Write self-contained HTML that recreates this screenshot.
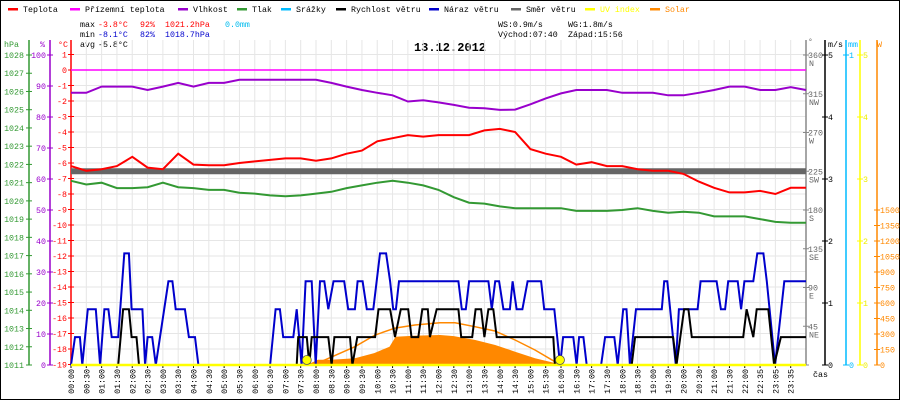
<!DOCTYPE html>
<html><head><meta charset="utf-8">
<style>
html,body{margin:0;padding:0;background:#fff;}
svg{display:block;font-family:"Liberation Mono",monospace;}
</style></head>
<body>
<svg id="chart" width="900" height="400" viewBox="0 0 900 400" xmlns="http://www.w3.org/2000/svg">
<rect x="0.5" y="0.5" width="899" height="399" fill="#fff" stroke="#000"/>
<g id="legend" font-size="8.3"></g>
<g font-size="8.3">
<text x="80" y="27" fill="#000">max</text><text x="98" y="27" fill="#f00">-3.8°C</text><text x="140" y="27" fill="#f00">92%</text><text x="165" y="27" fill="#f00">1021.2hPa</text><text x="225" y="27" fill="#00bbee">0.0mm</text>
<text x="80" y="37" fill="#000">min</text><text x="98" y="37" fill="#0000cc">-8.1°C</text><text x="140" y="37" fill="#0000cc">82%</text><text x="165" y="37" fill="#0000cc">1018.7hPa</text>
<text x="80" y="47" fill="#000">avg</text><text x="98" y="47" fill="#000">-5.8°C</text>
<text x="498" y="27" fill="#000">WS:0.9m/s</text><text x="568" y="27" fill="#000">WG:1.8m/s</text>
<text x="498" y="37" fill="#000">Východ:07:40</text><text x="568" y="37" fill="#000">Západ:15:56</text>
</g>
<text x="450" y="51" text-anchor="middle" font-size="12" font-weight="bold" fill="#000">13.12.2012</text>
<g id="grid"></g>
<g id="axes"></g>
<g id="series"></g>
</svg>
<script>
const NS="http://www.w3.org/2000/svg";
const hours=[];for(let i=0;i<=48;i++)hours.push(i*0.5);
const temperature=[-6.2,-6.5,-6.4,-6.2,-5.6,-6.3,-6.4,-5.4,-6.1,-6.15,-6.15,-6.0,-5.9,-5.8,-5.7,-5.7,-5.85,-5.7,-5.4,-5.2,-4.6,-4.4,-4.2,-4.3,-4.2,-4.2,-4.2,-3.9,-3.8,-4.0,-5.1,-5.4,-5.6,-6.1,-5.95,-6.2,-6.2,-6.4,-6.5,-6.5,-6.7,-7.2,-7.6,-7.9,-7.9,-7.8,-8.0,-7.6,-7.6];
const humidity=[87.8,87.8,89.8,89.8,89.8,88.7,89.8,91,89.8,91,91,92,92,92,92,92,92,91,89.8,88.7,87.8,87,85,85.4,84.7,83.9,83,82.8,82.3,82.4,84.1,86,87.6,88.7,88.7,88.7,87.8,87.8,87.8,87,87,87.8,88.7,89.8,89.8,88.7,88.7,89.6,88.7];
const pressure=[1021.1,1020.9,1021.0,1020.7,1020.7,1020.75,1021.0,1020.75,1020.7,1020.6,1020.6,1020.45,1020.4,1020.3,1020.25,1020.3,1020.4,1020.5,1020.7,1020.85,1021.0,1021.1,1021.0,1020.85,1020.6,1020.2,1019.9,1019.85,1019.7,1019.6,1019.6,1019.6,1019.6,1019.45,1019.45,1019.45,1019.5,1019.6,1019.45,1019.35,1019.4,1019.35,1019.15,1019.15,1019.15,1019.0,1018.85,1018.8,1018.8];
const apparentTemp=[0,0];const apparentHours=[0,24];
const windDir=[225,225];const windDirHours=[0,24];
const gustHours=[0,0.13,0.29,0.37,0.55,0.81,0.95,1.09,1.22,1.33,1.54,1.74,1.89,1.98,2.33,2.42,2.50,2.65,2.77,3.18,3.31,3.42,3.72,3.85,4.05,4.16,6.50,6.68,6.82,6.93,7.26,7.37,7.53,7.66,7.86,7.99,8.13,8.27,8.40,8.57,8.92,9.05,9.27,9.36,9.52,9.66,9.87,10.09,10.29,10.42,10.52,10.61,10.71,12.65,12.76,12.89,13.00,13.63,13.74,13.85,13.98,14.12,14.33,14.42,14.55,14.74,14.91,15.35,15.45,15.78,15.97,16.07,16.40,16.51,16.59,16.73,16.84,17.31,17.44,17.74,17.85,18.03,18.14,18.25,18.45,19.29,19.37,19.47,19.75,19.85,20.46,20.56,21.08,21.22,21.36,21.46,21.77,21.88,21.99,22.28,22.41,22.61,22.72,22.99,23.29,24];
const gustLevel=[0,1,1,0,2,2,0,2,2,1,1,4,4,2,2,0,1,1,0,3,3,2,2,1,1,0,0,2,2,1,1,2,0,3,3,0,3,3,2,3,3,2,2,3,3,2,2,4,4,3,2,2,3,3,2,2,3,3,2,3,3,2,2,3,2,2,3,3,2,2,0,1,1,0,1,1,0,0,1,1,0,2,2,0,2,2,3,3,0,2,2,3,3,2,2,3,3,2,3,3,4,4,3,0,3,3];
const speedHours=[0,1.54,1.70,1.89,1.98,2.14,2.22,7.37,7.42,7.70,7.78,7.86,8.40,8.51,8.60,9.11,9.19,9.35,9.93,10.04,10.42,10.58,10.77,11.01,11.12,11.34,11.47,11.65,11.72,11.94,12.65,12.74,13.10,13.21,13.39,13.50,13.63,13.79,13.90,15.75,15.80,18.31,18.42,19.66,19.77,20.02,20.16,20.27,21.95,22.06,22.28,22.39,22.77,22.96,23.18,24];
const speedLevel=[0,0,2,2,1,1,0,0,1,1,0,1,1,0,1,1,0,1,1,2,2,1,2,2,1,1,2,2,1,2,2,1,1,2,2,1,2,2,1,1,0,0,1,1,0,2,2,1,1,2,1,2,2,0,1,1];
const solarHours=[7.7,8.06,8.5,9.27,9.9,10.4,10.6,11.2,12.05,12.5,13.2,13.85,14.5,15.15,15.8,15.95];
const solarW=[0,50,50,65,115,177,274,284,290,280,242,194,129,65,19,0];
const solarMaxHours=[7.9,8.07,9.27,9.93,10.58,11.23,12.05,12.54,13.19,13.84,14.5,15.15,15.8,15.97];
const solarMaxW=[0,20,177,290,357,387,409,408,371,329,242,145,32,0];
const tickLabels=["00:00","00:30","01:00","01:30","02:00","02:30","03:00","03:30","04:00","04:30","05:00","05:30","06:00","06:30","07:00","07:30","08:00","08:30","09:00","09:30","10:00","10:30","11:00","11:30","12:00","12:30","13:00","13:30","14:00","14:30","15:00","15:30","16:00","16:30","17:00","17:30","18:00","18:30","19:00","19:30","20:00","20:30","21:00","21:30","22:00","22:35","23:05","23:35"];
const hpaTicks=[1011,1012,1013,1014,1015,1016,1017,1018,1019,1020,1021,1022,1023,1024,1025,1026,1027,1028];
const humTicks=[0,10,20,30,40,50,60,70,80,90,100];
const tempTicks=[1,0,-1,-2,-3,-4,-5,-6,-7,-8,-9,-10,-11,-12,-13,-14,-15,-16,-17,-18,-19];
const dirTicks=[0,45,90,135,180,225,270,315,360];
const dirNames=["","NE","E","SE","S","SW","W","NW","N"];
const msTicks=[0,1,2,3,4,5];
const uvTicks=[0,1,2,3,4,5];
const solarTicks=[0,150,300,450,600,750,900,1050,1200,1350,1500];

const xT=h=>71+h*30.625;
const yT=c=>70-c*15.5;
const yH=p=>365-p*3.1;
const yP=v=>365-(v-1011)*18.235;
const yW=m=>365-m*62;
const yS=w=>365-w*0.10333;
const yD=d=>365-d*310/360;
const yU=u=>365-u*62;

function el(tag,attrs,parent,text){const e=document.createElementNS(NS,tag);for(const k in attrs)e.setAttribute(k,attrs[k]);if(text!==undefined)e.textContent=text;parent.appendChild(e);return e;}
const grid=document.getElementById('grid'),axes=document.getElementById('axes'),series=document.getElementById('series'),legend=document.getElementById('legend');

// legend
const legItems=[["Teplota","#f00",8],["Přízemní teplota","#f0f",70],["Vlhkost","#90c",178],["Tlak","#393",237],["Srážky","#0bf",281],["Rychlost větru","#000",336],["Náraz větru","#00c",429],["Směr větru","#666",511],["UV index","#ff0",585],["Solar","#f80",650]];
legItems.forEach(it=>{
  const g=el('g',{},legend);
  
  
  el('rect',{x:it[2],y:8,width:10,height:2.5,fill:it[1]},g);
  el('text',{x:it[2]+15,y:12,fill:(it[0]==="UV index"||it[0]==="Solar")?it[1]:"#000"},g,it[0]);
});

// grid
for(let i=0;i<=48;i++){const x=xT(i*0.5);const l=el('line',{x1:x,y1:40,x2:x,y2:365,stroke:"#e6e6e6"},grid);}
tempTicks.forEach(t=>{const l=el('line',{x1:71,y1:yT(t),x2:806,y2:yT(t),stroke:"#e6e6e6"},grid);});

// left axes
function vaxis(x,color,name){const l=el('line',{x1:x,y1:40,x2:x,y2:365,stroke:color,"stroke-width":1.5},axes);}
vaxis(29,"#393","hpa-axis");vaxis(50,"#90c","humidity-axis");vaxis(71,"#f00","temp-axis");
el('text',{x:4,y:47,fill:"#393","font-size":8.3},axes,"hPa");
el('text',{x:40,y:47,fill:"#90c","font-size":8.3},axes,"%");
el('text',{x:58,y:47,fill:"#f00","font-size":8.3},axes,"°C");
hpaTicks.forEach(v=>{const y=yP(v);el('line',{x1:26,y1:y,x2:32,y2:y,stroke:"#393"},axes);const t=el('text',{x:24,y:y+3,fill:"#393","font-size":8.3,"text-anchor":"end"},axes,String(v));});
humTicks.forEach(v=>{const y=yH(v);el('line',{x1:47,y1:y,x2:53,y2:y,stroke:"#90c"},axes);const t=el('text',{x:46,y:y+3,fill:"#90c","font-size":8.3,"text-anchor":"end"},axes,String(v));});
tempTicks.forEach(v=>{const y=yT(v);el('line',{x1:68,y1:y,x2:74,y2:y,stroke:"#f00"},axes);const t=el('text',{x:67,y:y+3,fill:"#f00","font-size":8.3,"text-anchor":"end"},axes,String(v));});

// right axes
vaxis(806,"#888","direction-axis");
el('text',{x:808,y:44,fill:"#666","font-size":8},axes,"°");
dirTicks.forEach((v,i)=>{const y=yD(v);el('line',{x1:803,y1:y,x2:809,y2:y,stroke:"#888"},axes);if(v>0){const t=el('text',{x:808,y:y+3,fill:"#666","font-size":8.3},axes,String(v));el('text',{x:809,y:y+11,fill:"#666","font-size":8.3},axes,dirNames[i]);}});
vaxis(825,"#000","windspeed-axis");
el('text',{x:828,y:47,fill:"#000","font-size":8.3},axes,"m/s");
msTicks.forEach(v=>{const y=yW(v);el('line',{x1:822,y1:y,x2:828,y2:y,stroke:"#000"},axes);const t=el('text',{x:828,y:y+3,fill:"#000","font-size":8.3},axes,String(v));});
vaxis(846,"#0bf","rain-axis");
el('text',{x:848,y:47,fill:"#0bf","font-size":8.3},axes,"mm");
[[0,"0"],[5,"1"]].forEach(a=>{const y=yW(a[0]);el('line',{x1:843,y1:y,x2:849,y2:y,stroke:"#0bf"},axes);el('text',{x:849,y:y+3,fill:"#0bf","font-size":8.3},axes,a[1]);});
vaxis(860,"#ff0","uv-axis");
uvTicks.forEach(v=>{const y=yU(v);el('line',{x1:857,y1:y,x2:863,y2:y,stroke:"#ff0"},axes);const t=el('text',{x:863,y:y+3,fill:"#ee0","font-size":8.3},axes,String(v));});
vaxis(877,"#f80","solar-axis");
el('text',{x:877,y:47,fill:"#f80","font-size":8.3},axes,"W");
solarTicks.forEach(v=>{const y=yS(v);el('line',{x1:874,y1:y,x2:880,y2:y,stroke:"#f80"},axes);const t=el('text',{x:880,y:y+3,fill:"#f80","font-size":8.3},axes,String(v));});

// x labels
tickLabels.forEach((lab,i)=>{const x=xT(i*0.5);el('line',{x1:x,y1:365,x2:x,y2:368,stroke:"#000"},axes);const t=el('text',{x:0,y:0,fill:"#000","font-size":8.3,"text-anchor":"end",transform:`translate(${x+3},369) rotate(-90)`},axes,lab);});
el('text',{x:813,y:377,fill:"#000","font-size":8.3},axes,"čas");

// series
function pts(xs,ys,fx,fy){return xs.map((h,i)=>fx(h).toFixed(1)+","+fy(ys[i]).toFixed(1)).join(" ");}
// solar fill
const sf=el('polygon',{points:pts(solarHours,solarW,xT,yS)+` ${xT(solarHours[solarHours.length-1])},365 ${xT(solarHours[0])},365`,fill:"#f80"},series);


const sm=el('polyline',{points:pts(solarMaxHours,solarMaxW,xT,yS),fill:"none",stroke:"#f80","stroke-width":1.5},series);


const dl=el('polyline',{points:pts(windDirHours,windDir,xT,yD),fill:"none",stroke:"#666","stroke-width":6},series);


const al=el('polyline',{points:pts(apparentHours,apparentTemp,xT,yT),fill:"none",stroke:"#f0f","stroke-width":1.5},series);


const hl=el('polyline',{points:pts(hours,humidity,xT,yH),fill:"none",stroke:"#90c","stroke-width":2},series);


const pl=el('polyline',{points:pts(hours,pressure,xT,yP),fill:"none",stroke:"#393","stroke-width":2},series);


const tl=el('polyline',{points:pts(hours,temperature,xT,yT),fill:"none",stroke:"#f00","stroke-width":2},series);


const gl=el('polyline',{points:pts(gustHours,gustLevel.map(v=>v*0.45),xT,yW),fill:"none",stroke:"#00c","stroke-width":2},series);


const wl=el('polyline',{points:pts(speedHours,speedLevel.map(v=>v*0.45),xT,yW),fill:"none",stroke:"#000","stroke-width":2},series);


const ul=el('line',{x1:71,y1:365,x2:806,y2:365,stroke:"#ff0","stroke-width":2.5},series);


[7+40/60,15+56/60].forEach(h=>{const c=el('circle',{cx:xT(h)+1,cy:360,r:4.5,fill:"#ff0",stroke:"#555","stroke-width":0.8},series);});
</script>
</body></html>
